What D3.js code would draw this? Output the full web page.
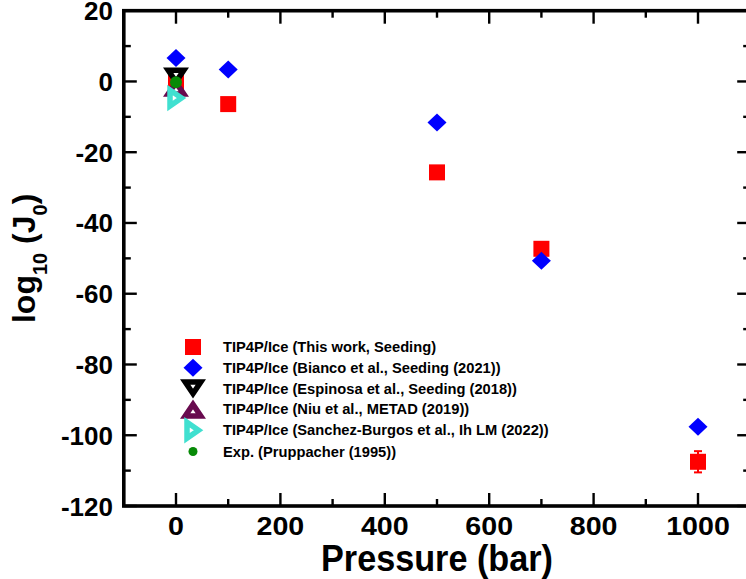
<!DOCTYPE html>
<html>
<head>
<meta charset="utf-8">
<script src="https://cdn.jsdelivr.net/npm/d3@7"></script>
<style>
  body { margin: 0; background: #fff; }
  text { font-family: "Liberation Sans", Arial, Helvetica, sans-serif; font-weight: bold; }
</style>
</head>
<body>
<div id="chart"></div>
<script>
// data
var pThis = [0, 100, 500, 700, 1000],
    jThis = [-0.3, -6.4, -25.7, -47.3, -107.5],
    eThis = [0, 0, 0, 0, 3];
var pBianco = [0, 100, 500, 700, 1000],
    jBianco = [6.6, 3.4, -11.6, -50.7, -97.6];
var pEspinosa = [0], jEspinosa = [1.3];
var pNiu = [0], jNiu = [-1.7];
var pSanchez = [0], jSanchez = [-4.7];
var pExp = [0], jExp = [-0.2];

var xTicks = [0, 200, 400, 600, 800, 1000],
    yTicks = [20, 0, -20, -40, -60, -80, -100, -120];

var labels = [
  "TIP4P/Ice (This work, Seeding)",
  "TIP4P/Ice (Bianco et al., Seeding (2021))",
  "TIP4P/Ice (Espinosa et al., Seeding (2018))",
  "TIP4P/Ice (Niu et al., METAD (2019))",
  "TIP4P/Ice (Sanchez-Burgos et al., Ih LM (2022))",
  "Exp. (Pruppacher (1995))"
];

var width = 746, height = 579;
var mLeft = 123.8, mRight = 750.2, mTop = 10.7, mBottom = 506;

var svg = d3.select("#chart").append("svg")
  .attr("width", width)
  .attr("height", height);

var x = d3.scaleLinear().domain([-100, 1100]).range([mLeft, mRight]);
var y = d3.scaleLinear().domain([-120, 20]).range([mBottom, mTop]);

// marker shapes
function tri(g, c, d) {
  g.append("path").attr("d", d)
    .attr("fill", "#fff").attr("stroke", c)
    .attr("stroke-width", 5.5).attr("stroke-linejoin", "miter");
}
var shapes = {
  square: function (g, c) {
    g.append("rect").attr("x", -8).attr("y", -8).attr("width", 16).attr("height", 16).attr("fill", c);
  },
  diamond: function (g, c) {
    g.append("path").attr("d", "M0,-9L9.5,0L0,9L-9.5,0Z").attr("fill", c);
  },
  down: function (g, c) { tri(g, c, "M-7.8,-6.5L7.8,-6.5L0,5Z"); },
  up: function (g, c) { tri(g, c, "M-7.8,6.5L7.8,6.5L0,-5Z"); },
  right: function (g, c) { tri(g, c, "M-6,-8L-6,8L5.5,0Z"); },
  circle: function (g, c, r) {
    g.append("circle").attr("r", r || 6).attr("fill", c);
  }
};

var series = [
  { p: pThis, j: jThis, e: eThis, shape: "square", color: "#ff0000" },
  { p: pBianco, j: jBianco, shape: "diamond", color: "#0000ff" },
  { p: pEspinosa, j: jEspinosa, shape: "down", color: "#000000" },
  { p: pNiu, j: jNiu, shape: "up", color: "#680a4e" },
  { p: pSanchez, j: jSanchez, shape: "right", color: "#40e0d0" },
  { p: pExp, j: jExp, shape: "circle", color: "#078a07" }
];

// axes: ticks inward on all four sides
var axisW = 3.6, tickW = 2.4;
function xTickLines(yy, dir) {
  d3.range(-100, 1101, 100).forEach(function (v) {
    var len = (v % 200 === 0) ? 13 : 7;
    svg.append("line").attr("x1", x(v)).attr("x2", x(v))
      .attr("y1", yy).attr("y2", yy + dir * len)
      .attr("stroke", "#000").attr("stroke-width", tickW);
  });
}
function yTickLines(xx, dir) {
  d3.range(-120, 21, 10).forEach(function (v) {
    var len = (v % 20 === 0) ? 13 : 7;
    svg.append("line").attr("y1", y(v)).attr("y2", y(v))
      .attr("x1", xx).attr("x2", xx + dir * len)
      .attr("stroke", "#000").attr("stroke-width", tickW);
  });
}
xTickLines(mBottom, -1);
xTickLines(mTop, 1);
yTickLines(mLeft, 1);
yTickLines(mRight, -1);

svg.append("rect")
  .attr("x", mLeft).attr("y", mTop)
  .attr("width", mRight - mLeft).attr("height", mBottom - mTop)
  .attr("fill", "none").attr("stroke", "#000").attr("stroke-width", axisW);

// tick labels
svg.selectAll(".xlab").data(xTicks).enter().append("text")
  .attr("class", "xlab")
  .attr("transform", function (d) { return "translate(" + x(d) + ",535) scale(1.1,1)"; })
  .attr("text-anchor", "middle")
  .attr("font-size", 26)
  .text(function (d) { return d; });

svg.selectAll(".ylab").data(yTicks).enter().append("text")
  .attr("class", "ylab")
  .attr("x", 113)
  .attr("y", function (d) { return y(d) + 9.5; })
  .attr("text-anchor", "end")
  .attr("font-size", 26)
  .text(function (d) { return d; });

// axis titles
svg.append("text")
  .attr("x", (mLeft + mRight) / 2)
  .attr("y", 571)
  .attr("text-anchor", "middle")
  .attr("font-size", 36)
  .attr("textLength", 232)
  .attr("lengthAdjust", "spacingAndGlyphs")
  .text("Pressure (bar)");

var yt = svg.append("text")
  .attr("transform", "translate(35," + ((mTop + mBottom) / 2) + ") rotate(-90)")
  .attr("text-anchor", "middle")
  .attr("font-size", 32);
yt.append("tspan").text("log");
yt.append("tspan").attr("font-size", 20).attr("dy", 12).text("10");
yt.append("tspan").attr("dy", -12).text(" (J");
yt.append("tspan").attr("font-size", 20).attr("dy", 12).text("0");
yt.append("tspan").attr("dy", -12).text(")");

// points
series.forEach(function (s) {
  s.p.forEach(function (p, i) {
    var cx = x(p), cy = y(s.j[i]);
    if (s.e && s.e[i] > 0) {
      var y1 = y(s.j[i] + s.e[i]), y2 = y(s.j[i] - s.e[i]);
      svg.append("line").attr("x1", cx).attr("x2", cx).attr("y1", y1).attr("y2", y2)
        .attr("stroke", s.color).attr("stroke-width", 2);
      [y1, y2].forEach(function (yy) {
        svg.append("line").attr("x1", cx - 4).attr("x2", cx + 4).attr("y1", yy).attr("y2", yy)
          .attr("stroke", s.color).attr("stroke-width", 2);
      });
    }
    var g = svg.append("g").attr("transform", "translate(" + cx + "," + cy + ")");
    shapes[s.shape](g, s.color, 6);
  });
});

// legend
var legY = [347, 367.8, 388.6, 409.4, 430.2, 451.5];
series.forEach(function (s, i) {
  var g = svg.append("g").attr("transform", "translate(193," + legY[i] + ")");
  shapes[s.shape](g, s.color, 4.5);
  svg.append("text")
    .attr("x", 223)
    .attr("y", legY[i] + 5)
    .attr("font-size", 14.7)
    .text(labels[i]);
});
</script>
</body>
</html>
